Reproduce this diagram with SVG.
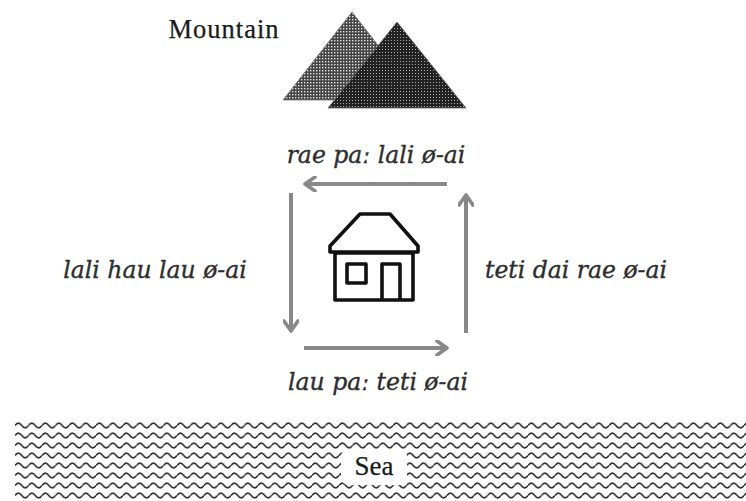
<svg xmlns="http://www.w3.org/2000/svg" width="746" height="501" viewBox="0 0 746 501">
  <defs>
    <!-- halftone fills for the two peaks -->
    <pattern id="dotsLight" width="3" height="3" patternUnits="userSpaceOnUse">
      <rect width="3" height="3" fill="#444"/>
      <rect x="1" y="1" width="1.4" height="1.4" fill="#e4e4e4"/>
    </pattern>
    <pattern id="dotsDark" width="3" height="3" patternUnits="userSpaceOnUse">
      <rect width="3" height="3" fill="#222"/>
      <rect x="1" y="1" width="1" height="1" fill="#aaa"/>
    </pattern>
    <!-- wavy water texture -->
    <pattern id="waves" x="15" y="420" width="13.5" height="10" patternUnits="userSpaceOnUse">
      <path d="M0,5.5 Q3.375,0.8 6.75,5.5 T13.5,5.5" fill="none" stroke="#333" stroke-width="1.7"/>
    </pattern>
    <marker id="chev" viewBox="0 0 14 16" refX="12" refY="8" markerWidth="14" markerHeight="16" markerUnits="userSpaceOnUse" orient="auto">
      <path d="M2,1 L12,8 L2,15" fill="none" stroke="#888" stroke-width="3.6" stroke-linecap="round" stroke-linejoin="round"/>
    </marker>
  </defs>
  <style>
    .lbl { font-family: "Liberation Serif", "Times New Roman", serif; fill: #1a1a1a; stroke: #1a1a1a; stroke-width: 0.25; }
    .path-lbl { font-family: "DejaVu Serif", "Liberation Serif", serif; font-style: italic; font-size: 23.5px; fill: #2e2e2e; stroke: #2e2e2e; stroke-width: 0.35; }
    .flow { fill: none; stroke: #888; stroke-width: 4; marker-end: url(#chev); }
    .house { fill: none; stroke: #111; stroke-width: 3.6; stroke-linejoin: round; }
  </style>

  <rect width="746" height="501" fill="#fff"/>

  <g id="mountain">
    <polygon points="352,12 283,100 421,100" fill="url(#dotsLight)" stroke="#777" stroke-width="0.8"/>
    <polygon points="397,22 328,108 466,108" fill="url(#dotsDark)" stroke="#666" stroke-width="0.8"/>
    <text class="lbl" x="224" y="38" text-anchor="middle" font-size="26.5" letter-spacing="1">Mountain</text>
  </g>

  <g id="house">
    <path class="house" d="M360,214 L390,214 L418,246 L418,252 L330,252 L330,246 Z"/>
    <rect class="house" x="335" y="253" width="78" height="47"/>
    <rect class="house" x="347" y="264" width="19" height="19"/>
    <path class="house" d="M382,300 L382,264 L400,264 L400,300"/>
  </g>

  <g id="connectors">
    <line class="flow" x1="447" y1="184" x2="305" y2="184"/>
    <line class="flow" x1="291" y1="193" x2="291" y2="331"/>
    <line class="flow" x1="304" y1="348" x2="447" y2="348"/>
    <line class="flow" x1="466" y1="333" x2="466" y2="195"/>
  </g>

  <g id="labels">
    <text class="path-lbl" x="376" y="163" text-anchor="middle">rae paː lali ø-ai</text>
    <text class="path-lbl" x="155" y="278" text-anchor="middle">lali hau lau ø-ai</text>
    <text class="path-lbl" x="576" y="278" text-anchor="middle">teti dai rae ø-ai</text>
    <text class="path-lbl" x="378" y="390" text-anchor="middle">lau paː teti ø-ai</text>
  </g>

  <g id="sea">
    <rect x="15" y="420" width="731" height="81" fill="url(#waves)"/>
    <rect x="341" y="449" width="66" height="36" rx="8" fill="#fff"/>
    <text class="lbl" x="374" y="475" text-anchor="middle" font-size="27">Sea</text>
  </g>
</svg>
